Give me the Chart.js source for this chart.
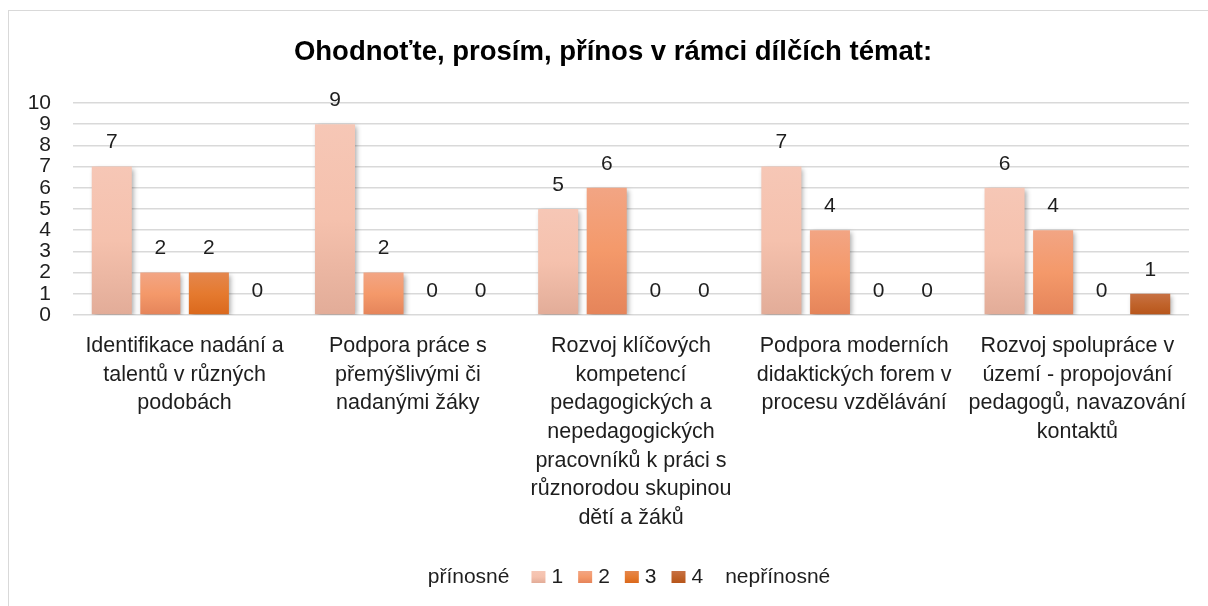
<!DOCTYPE html>
<html>
<head>
<meta charset="utf-8">
<script src="https://cdn.jsdelivr.net/npm/chart.js@4"></script>
<style>
  html, body { margin: 0; padding: 0; background: #fff; overflow: hidden; }
  #frame { position: absolute; left: 8px; top: 10px; width: 1400px; height: 800px; border: 1px solid #d9d9d9; }
  #chart { position: absolute; left: 0; top: 0; }
</style>
</head>
<body>
<div id="frame"></div>
<canvas id="chart" width="1226" height="606"></canvas>
<script>
const chartTitle = 'Ohodnoťte, prosím, přínos v rámci dílčích témat:';
const categories = [
  ['Identifikace nadání a', 'talentů v různých', 'podobách'],
  ['Podpora práce s', 'přemýšlivými či', 'nadanými žáky'],
  ['Rozvoj klíčových', 'kompetencí', 'pedagogických a', 'nepedagogických', 'pracovníků k práci s', 'různorodou skupinou', 'dětí a žáků'],
  ['Podpora moderních', 'didaktických forem v', 'procesu vzdělávání'],
  ['Rozvoj spolupráce v', 'území - propojování', 'pedagogů, navazování', 'kontaktů']
];
const seriesNames = ['1', '2', '3', '4'];
const values1 = [7, 9, 5, 7, 6];
const values2 = [2, 2, 6, 4, 4];
const values3 = [2, 0, 0, 0, 0];
const values4 = [0, 0, 0, 0, 1];
const yTicks = [0, 1, 2, 3, 4, 5, 6, 7, 8, 9, 10];
const legendStart = 'přínosné';
const legendEnd = 'nepřínosné';

const FONT = "'Liberation Sans', Arial, sans-serif";
const TEXT = '#1e1e1e';
// top, middle, bottom of each bar's gradient
const stops = [
  ['#f6c7b6', '#f5c1ad', '#e2ac98'],
  ['#f2a584', '#f4996a', '#e5845a'],
  ['#e4864d', '#e57a2f', '#da681c'],
  ['#c77144', '#c0632b', '#b7551a']
];

function barFill(ctx) {
  const s = stops[ctx.datasetIndex];
  const chart = ctx.chart;
  if (ctx.type !== 'data' || !chart.scales.y) return s[1];
  const y = chart.scales.y;
  const top = y.getPixelForValue(ctx.raw);
  const bottom = y.getPixelForValue(0);
  if (!Number.isFinite(top) || !Number.isFinite(bottom) || bottom - top < 1) return s[1];
  const g = chart.ctx.createLinearGradient(0, top, 0, bottom);
  g.addColorStop(0, s[0]);
  g.addColorStop(0.5, s[1]);
  g.addColorStop(1, s[2]);
  return g;
}

const barShadow = {
  id: 'barShadow',
  beforeDatasetsDraw(chart) {
    const c = chart.ctx;
    c.save();
    c.shadowColor = 'rgba(0,0,0,0.35)';
    c.shadowBlur = 5;
    c.shadowOffsetX = 2;
    c.shadowOffsetY = 2;
  },
  afterDatasetsDraw(chart) {
    chart.ctx.restore();
  }
};

const valueLabels = {
  id: 'valueLabels',
  afterDatasetsDraw(chart) {
    const c = chart.ctx;
    c.save();
    c.font = '21px ' + FONT;
    c.fillStyle = TEXT;
    c.textAlign = 'center';
    c.textBaseline = 'middle';
    chart.data.datasets.forEach((ds, i) => {
      chart.getDatasetMeta(i).data.forEach((bar, j) => {
        c.fillText(String(ds.data[j]), bar.x, bar.y - 24);
      });
    });
    c.restore();
  }
};

// title is centred on the whole chart frame, not on the plot
const frameTitle = {
  id: 'frameTitle',
  afterDraw(chart) {
    const c = chart.ctx;
    c.save();
    c.font = 'bold 27.5px ' + FONT;
    c.fillStyle = '#000';
    c.textAlign = 'center';
    c.textBaseline = 'middle';
    c.fillText(chartTitle, 613, 52);
    c.restore();
  }
};

// legend: "přínosné ■1 ■2 ■3 ■4 nepřínosné"
const customLegend = {
  id: 'customLegend',
  afterDraw(chart) {
    const c = chart.ctx;
    c.save();
    c.font = '21px ' + FONT;
    c.fillStyle = TEXT;
    c.textBaseline = 'middle';
    const box = 14, gapBox = 6, gap = 15, gapText = 22;
    const w = t => c.measureText(t).width;
    let total = w(legendStart) + gapText + w(legendEnd) + gapText - gap;
    seriesNames.forEach(n => { total += box + gapBox + w(n) + gap; });
    let x = 629 - total / 2;
    const yc = 577;
    c.fillText(legendStart, x, yc);
    x += w(legendStart) + gapText;
    seriesNames.forEach((n, i) => {
      const g = c.createLinearGradient(0, yc - 6, 0, yc + 6);
      g.addColorStop(0, stops[i][0]);
      g.addColorStop(0.5, stops[i][1]);
      g.addColorStop(1, stops[i][2]);
      c.fillStyle = g;
      c.fillRect(x, yc - 6, box, 12);
      x += box + gapBox;
      c.fillStyle = TEXT;
      c.fillText(n, x, yc);
      x += w(n) + (i === seriesNames.length - 1 ? gapText : gap);
    });
    c.fillText(legendEnd, x, yc);
    c.restore();
  }
};

const seriesValues = [values1, values2, values3, values4];

new Chart(document.getElementById('chart'), {
  type: 'bar',
  data: {
    labels: categories,
    datasets: seriesNames.map((name, i) => ({
      label: name,
      data: seriesValues[i],
      backgroundColor: barFill,
      borderWidth: 0,
      categoryPercentage: 0.87,
      barPercentage: 0.825
    }))
  },
  plugins: [barShadow, valueLabels, frameTitle, customLegend],
  options: {
    responsive: false,
    animation: false,
    layout: { padding: { left: 0, right: 37, top: 103, bottom: 0 } },
    plugins: {
      legend: { display: false },
      tooltip: { enabled: false },
      title: { display: false }
    },
    scales: {
      x: {
        grid: { display: false, drawTicks: false },
        border: { display: false },
        ticks: {
          color: TEXT,
          font: { family: FONT, size: 21.5, lineHeight: 1.33 },
          padding: 17,
          maxRotation: 0,
          autoSkip: false
        },
        afterFit(scale) { scale.height = 291; }
      },
      y: {
        min: yTicks[0],
        max: yTicks[yTicks.length - 1],
        ticks: {
          stepSize: 1,
          autoSkip: false,
          padding: 22,
          color: TEXT,
          font: { family: FONT, size: 21, lineHeight: 1 }
        },
        grid: { color: '#d9d9d9', lineWidth: 1.5, drawTicks: false },
        border: { display: false },
        afterFit(scale) { scale.width = 73; }
      }
    }
  }
});
</script>
</body>
</html>
